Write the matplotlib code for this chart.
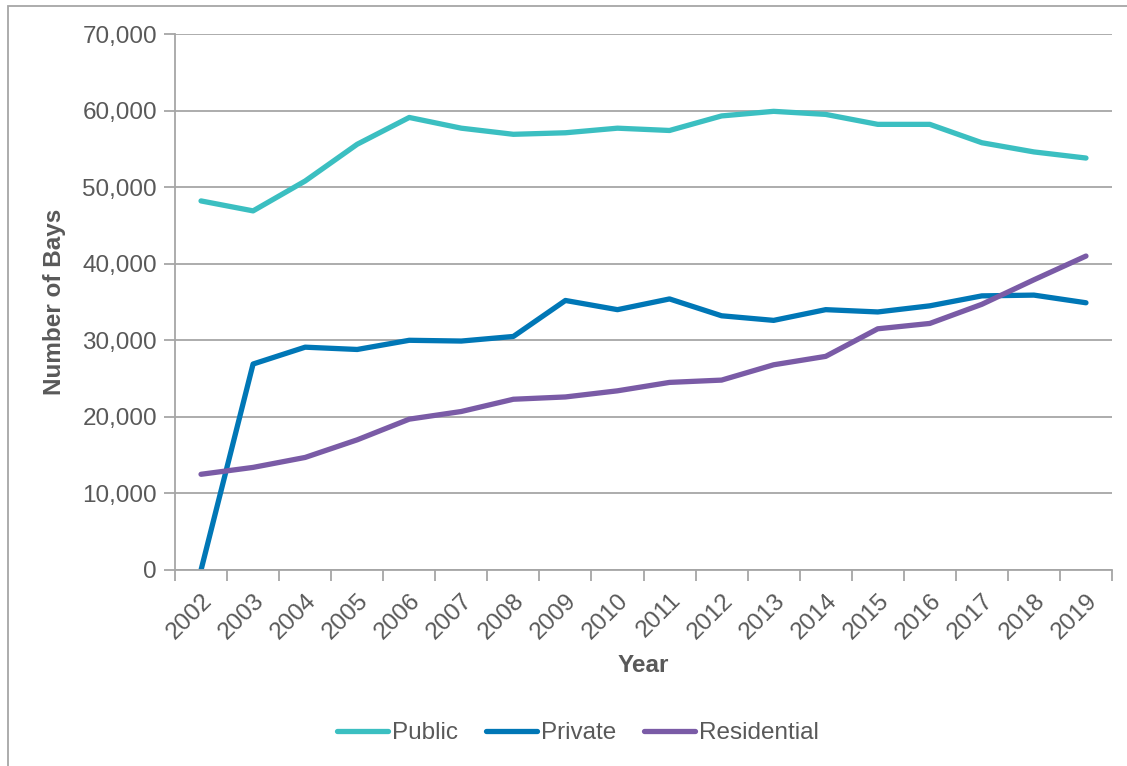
import matplotlib
matplotlib.use("Agg")
import matplotlib.pyplot as plt
from matplotlib.ticker import FuncFormatter, FixedLocator
from matplotlib.patches import Rectangle

years = [str(y) for y in range(2002, 2020)]
public = [48200, 46900, 50800, 55600, 59100, 57700, 56900, 57100, 57700, 57400,
          59300, 59900, 59500, 58200, 58200, 55800, 54600, 53800]
private = [0, 26900, 29100, 28800, 30000, 29900, 30500, 35200, 34000, 35400,
           33200, 32600, 34000, 33700, 34500, 35800, 35900, 34900]
residential = [12500, 13400, 14700, 17000, 19700, 20700, 22300, 22600, 23400, 24500,
               24800, 26800, 27900, 31500, 32200, 34700, 37900, 41000]
series_names = ["Public", "Private", "Residential"]
colors = ["#3BBFC1", "#0077B6", "#7A5BA6"]

plt.rcParams['font.family'] = ['Liberation Sans', 'DejaVu Sans']
text_color = "#595959"
grid_color = "#A6A6A6"

fig = plt.figure(figsize=(11.27, 7.66), dpi=100)
ax = fig.add_axes([175/1127, 1-570/766, (1112-175)/1127, (570-34)/766])

x = list(range(len(years)))
for vals, name, c in zip([public, private, residential], series_names, colors):
    ax.plot(x, vals, color=c, lw=3.8, label=name, solid_capstyle='round', solid_joinstyle='round')

ax.set_xlim(-0.5, len(years) - 0.5)
ax.set_ylim(0, 70000)
ax.set_yticks(range(0, 70001, 10000))
ax.yaxis.set_major_formatter(FuncFormatter(lambda v, p: f"{int(v):,}"))
ax.grid(axis='y', color=grid_color, lw=1.3)
ax.set_axisbelow(True)

ax.xaxis.set_major_locator(FixedLocator([i - 0.5 for i in range(len(years) + 1)]))
ax.xaxis.set_major_formatter(FuncFormatter(lambda v, p: ""))
ax.xaxis.set_minor_locator(FixedLocator(x))
ax.set_xticklabels(years, minor=True, rotation=45, ha='right', va='top', rotation_mode='anchor')
ax.tick_params(axis='x', which='major', length=8, width=1.3, color=grid_color)
ax.tick_params(axis='x', which='minor', length=0, pad=14, labelsize=17.5, labelcolor=text_color)
ax.tick_params(axis='y', which='major', length=8, width=1.3, color=grid_color, labelsize=17.5, labelcolor=text_color, pad=5)
for lbl in ax.get_xticklabels(minor=True):
    lbl.set_x(lbl.get_position()[0])

for s in ['top', 'right']:
    ax.spines[s].set_visible(False)
for s in ['left', 'bottom']:
    ax.spines[s].set_color(grid_color)
    ax.spines[s].set_linewidth(1.3)

ax.set_ylabel("Number of Bays", fontsize=17.5, fontweight='bold', color=text_color, labelpad=12)
ax.set_xlabel("Year", fontsize=17.5, fontweight='bold', color=text_color, labelpad=8)

fig.legend(loc='center', bbox_to_anchor=(578/1127, 1-733/766), ncol=3, frameon=False,
           fontsize=17.5, handlelength=2.1, handletextpad=0.15, columnspacing=1.15,
           labelcolor=text_color)

fig.patches.append(Rectangle((8/1127, -0.05), 1.2, 1 - 6/766 + 0.05, transform=fig.transFigure,
                             fill=False, edgecolor="#A6A6A6", lw=1.3))

fig.savefig("out.png", dpi=100)
